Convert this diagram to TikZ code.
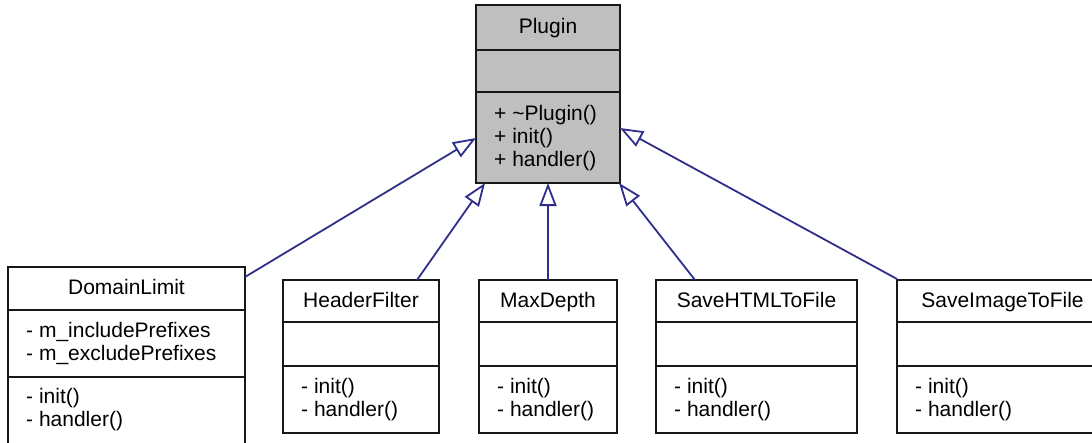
\documentclass[tikz,border=0pt]{standalone}
\usepackage{fontspec}
\setmainfont{Liberation Sans}
\usetikzlibrary{arrows.meta,calc}
\definecolor{edgeblue}{RGB}{46,46,140}
\definecolor{basegray}{RGB}{191,191,191}
\definecolor{boxline}{RGB}{24,24,24}
\begin{document}
\begin{tikzpicture}[x=1pt,y=-1pt,
  classbox/.style={draw=boxline, line width=1.8pt, inner sep=0pt, outer sep=0pt, anchor=north west},
  sep/.style={draw=boxline, line width=1.8pt},
  title/.style={anchor=base, inner sep=0pt, font=\fontsize{21}{23}\selectfont},
  member/.style={anchor=base west, inner sep=0pt, font=\fontsize{21}{23}\selectfont},
  inherit/.style={draw=edgeblue, line width=1.8pt,
    -{Triangle[length=23pt, width=17pt, fill=white, line width=1.8pt]}}]
\useasboundingbox (0,0) rectangle (1092,442);
\clip (0,0) rectangle (1092,442);

% base class
\node[classbox, fill=basegray, minimum width=144pt, minimum height=178pt] (plugin) at (476,5) {};
\draw[sep] ($(plugin.north west)+(0,45)$) -- ($(plugin.north east)+(0,45)$);
\draw[sep] ($(plugin.north west)+(0,87)$) -- ($(plugin.north east)+(0,87)$);
\node[title] (plugin-t) at ($(plugin.north)+(0,28)$) {Plugin};
\node[member] (plugin-m1) at ($(plugin.north west)+(18,115)$) {+ \textasciitilde Plugin()};
\node[member] (plugin-m2) at ($(plugin.north west)+(18,138)$) {+ init()};
\node[member] (plugin-m3) at ($(plugin.north west)+(18,161)$) {+ handler()};

% DomainLimit
\node[classbox, fill=white, minimum width=237pt, minimum height=200pt] (domain) at (8,267) {};
\draw[sep] ($(domain.north west)+(0,43)$) -- ($(domain.north east)+(0,43)$);
\draw[sep] ($(domain.north west)+(0,110)$) -- ($(domain.north east)+(0,110)$);
\node[title] (domain-t) at ($(domain.north)+(0,27)$) {DomainLimit};
\node[member] (domain-a1) at ($(domain.north west)+(18,70)$) {- m\_includePrefixes};
\node[member] (domain-a2) at ($(domain.north west)+(18,93)$) {- m\_excludePrefixes};
\node[member] (domain-m1) at ($(domain.north west)+(18,136)$) {- init()};
\node[member] (domain-m2) at ($(domain.north west)+(18,159)$) {- handler()};

% derived classes with no attributes
\foreach \id/\x/\w/\name in {header/283/156/HeaderFilter, depth/479/138/MaxDepth,
                             html/656/201/SaveHTMLToFile, image/897/211/SaveImageToFile}{
  \node[classbox, fill=white, minimum width=\w pt, minimum height=153pt] (\id) at (\x,280) {};
  \draw[sep] ($(\id.north west)+(0,42)$) -- ($(\id.north east)+(0,42)$);
  \draw[sep] ($(\id.north west)+(0,86)$) -- ($(\id.north east)+(0,86)$);
  \node[title] (\id-t) at ($(\id.north)+(0,27)$) {\name};
  \node[member] (\id-m1) at ($(\id.north west)+(18,113)$) {- init()};
  \node[member] (\id-m2) at ($(\id.north west)+(18,136)$) {- handler()};
}

% generalisation arrows
\draw[inherit] ($(domain.north east)+(0,10)$) -- ($(plugin.north west)+(0,133)$);
\draw[inherit] ($(header.north west)+(134,0)$) -- ($(plugin.south west)+(9,0)$);
\draw[inherit] (depth.north) -- (plugin.south);
\draw[inherit] ($(html.north west)+(39,0)$) -- ($(plugin.south east)+(-1,0)$);
\draw[inherit] ($(image.north west)+(0,-1)$) -- ($(plugin.north east)+(0,123)$);
\end{tikzpicture}
\end{document}
